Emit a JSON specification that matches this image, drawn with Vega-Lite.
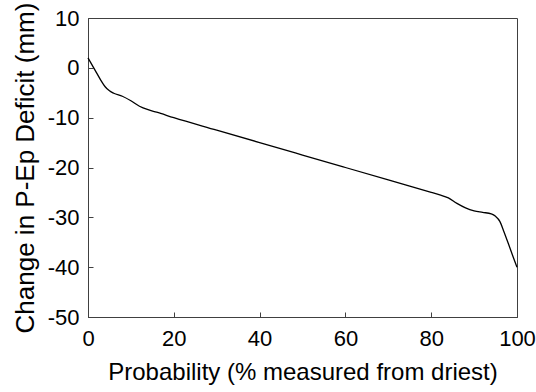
{
  "$schema": "https://vega.github.io/schema/vega-lite/v6.json",
  "width": 429,
  "height": 299,
  "autosize": {"type": "none"},
  "padding": {"left": 88, "top": 18, "right": 19, "bottom": 75},
  "config": {
    "font": "Liberation Sans",
    "view": {"stroke": "#404040", "strokeWidth": 1},
    "axis": {
      "grid": false,
      "domainColor": "#404040",
      "tickColor": "#404040",
      "labelColor": "#000",
      "titleColor": "#000",
      "labelFont": "Liberation Sans",
      "titleFont": "Liberation Sans",
      "labelFontSize": 22,
      "titleFontWeight": "normal",
      "tickSize": -5,
      "labelFlush": false,
      "labelOverlap": false,
      "labelExpr": "'' + datum.value"
    }
  },
  "data": {
    "values": [
      {"p": 0, "d": 2.0},
      {"p": 1, "d": 0.5},
      {"p": 2, "d": -1.0},
      {"p": 3, "d": -2.5},
      {"p": 4, "d": -3.8},
      {"p": 5, "d": -4.6},
      {"p": 6, "d": -5.1},
      {"p": 8, "d": -5.7},
      {"p": 10, "d": -6.6},
      {"p": 12, "d": -7.7},
      {"p": 14, "d": -8.4},
      {"p": 16, "d": -8.9},
      {"p": 20, "d": -10.0},
      {"p": 30, "d": -12.5},
      {"p": 40, "d": -15.0},
      {"p": 50, "d": -17.5},
      {"p": 60, "d": -20.0},
      {"p": 70, "d": -22.5},
      {"p": 80, "d": -25.0},
      {"p": 82, "d": -25.5},
      {"p": 84, "d": -26.1},
      {"p": 86, "d": -27.2},
      {"p": 88, "d": -28.1},
      {"p": 90, "d": -28.7},
      {"p": 92, "d": -29.0},
      {"p": 94, "d": -29.3},
      {"p": 95, "d": -29.8},
      {"p": 96, "d": -30.8},
      {"p": 97, "d": -33.0},
      {"p": 98, "d": -35.3},
      {"p": 99, "d": -37.7},
      {"p": 100, "d": -40.0}
    ]
  },
  "mark": {"type": "line", "color": "#000", "strokeWidth": 1.3, "interpolate": "monotone"},
  "encoding": {
    "x": {
      "field": "p",
      "type": "quantitative",
      "scale": {"domain": [0, 100], "nice": false, "zero": false},
      "axis": {"values": [0, 20, 40, 60, 80, 100], "title": "Probability (% measured from driest)", "titleFontSize": 24, "labelPadding": 16, "titlePadding": 11}
    },
    "y": {
      "field": "d",
      "type": "quantitative",
      "scale": {"domain": [-50, 10], "nice": false, "zero": false},
      "axis": {"values": [-50, -40, -30, -20, -10, 0, 10], "title": "Change in P-Ep Deficit (mm)", "titleFontSize": 26, "labelPadding": 14, "titlePadding": 9}
    }
  }
}
